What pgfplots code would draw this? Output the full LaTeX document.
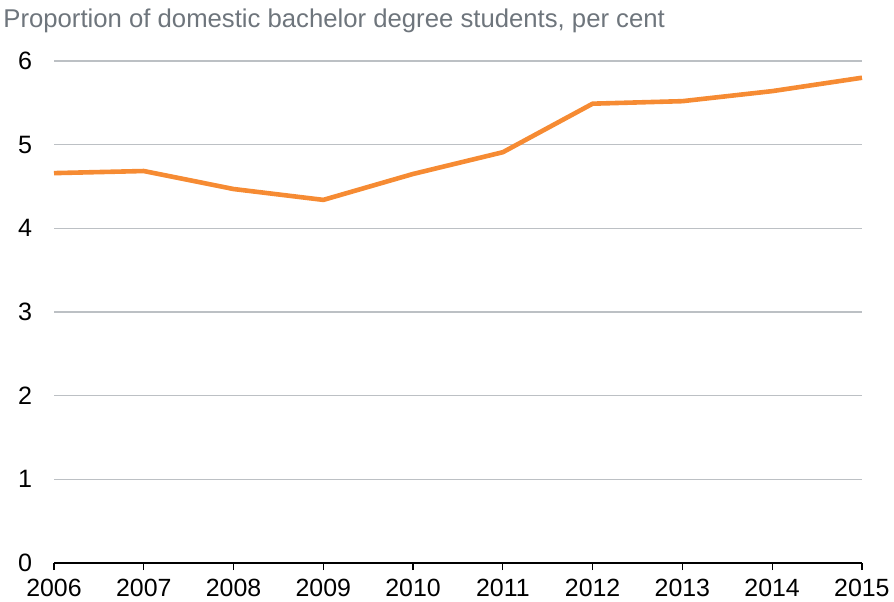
\documentclass[border=0pt]{standalone}
\usepackage{pgfplots}
\pgfplotsset{compat=1.18}
\usepackage{fontspec}
\setmainfont{Liberation Sans}
\definecolor{lineorange}{HTML}{F68B33}
\definecolor{gridgray}{HTML}{BCC0C4}
\definecolor{subgray}{HTML}{6E757C}
\begin{document}
\begin{tikzpicture}
\path[use as bounding box] (-27bp,-19.5bp) rectangle (420bp,281.5bp);
\begin{axis}[
  scale only axis,
  width=404bp, height=251bp,
  xmin=2006, xmax=2015, ymin=0, ymax=6,
  xtick={2006,...,2015},
  ytick={0,1,2,3,4,5,6},
  axis x line*=bottom,
  axis y line*=left,
  y axis line style={draw=none},
  ytick style={draw=none},
  x axis line style={black, line width=0.6bp},
  xtick style={black, line width=0.6bp},
  tick align=outside,
  major tick length=3.5bp,
  ymajorgrids,
  grid style={gridgray, line width=0.6bp},
  xticklabel style={font=\fontsize{12.5}{14}\selectfont, yshift=-1bp},
  yticklabel style={font=\fontsize{12.6}{14}\selectfont, xshift=-4bp},
  /pgf/number format/assume math mode=true,
  xticklabel={\pgfmathprintnumber[1000 sep={}]{\tick}},
  clip=false,
]
\addplot[lineorange, line width=2.3bp, line join=round] coordinates {
(2006,4.66) (2007,4.685) (2008,4.47) (2009,4.34) (2010,4.65)
(2011,4.91) (2012,5.49) (2013,5.52) (2014,5.64) (2015,5.80)
};
\end{axis}
\node[anchor=base west, text=subgray, font=\fontsize{12.9}{15}\selectfont, inner sep=0pt] at (-25.5bp,267.5bp) {Proportion of domestic bachelor degree students, per cent};
\end{tikzpicture}
\end{document}
